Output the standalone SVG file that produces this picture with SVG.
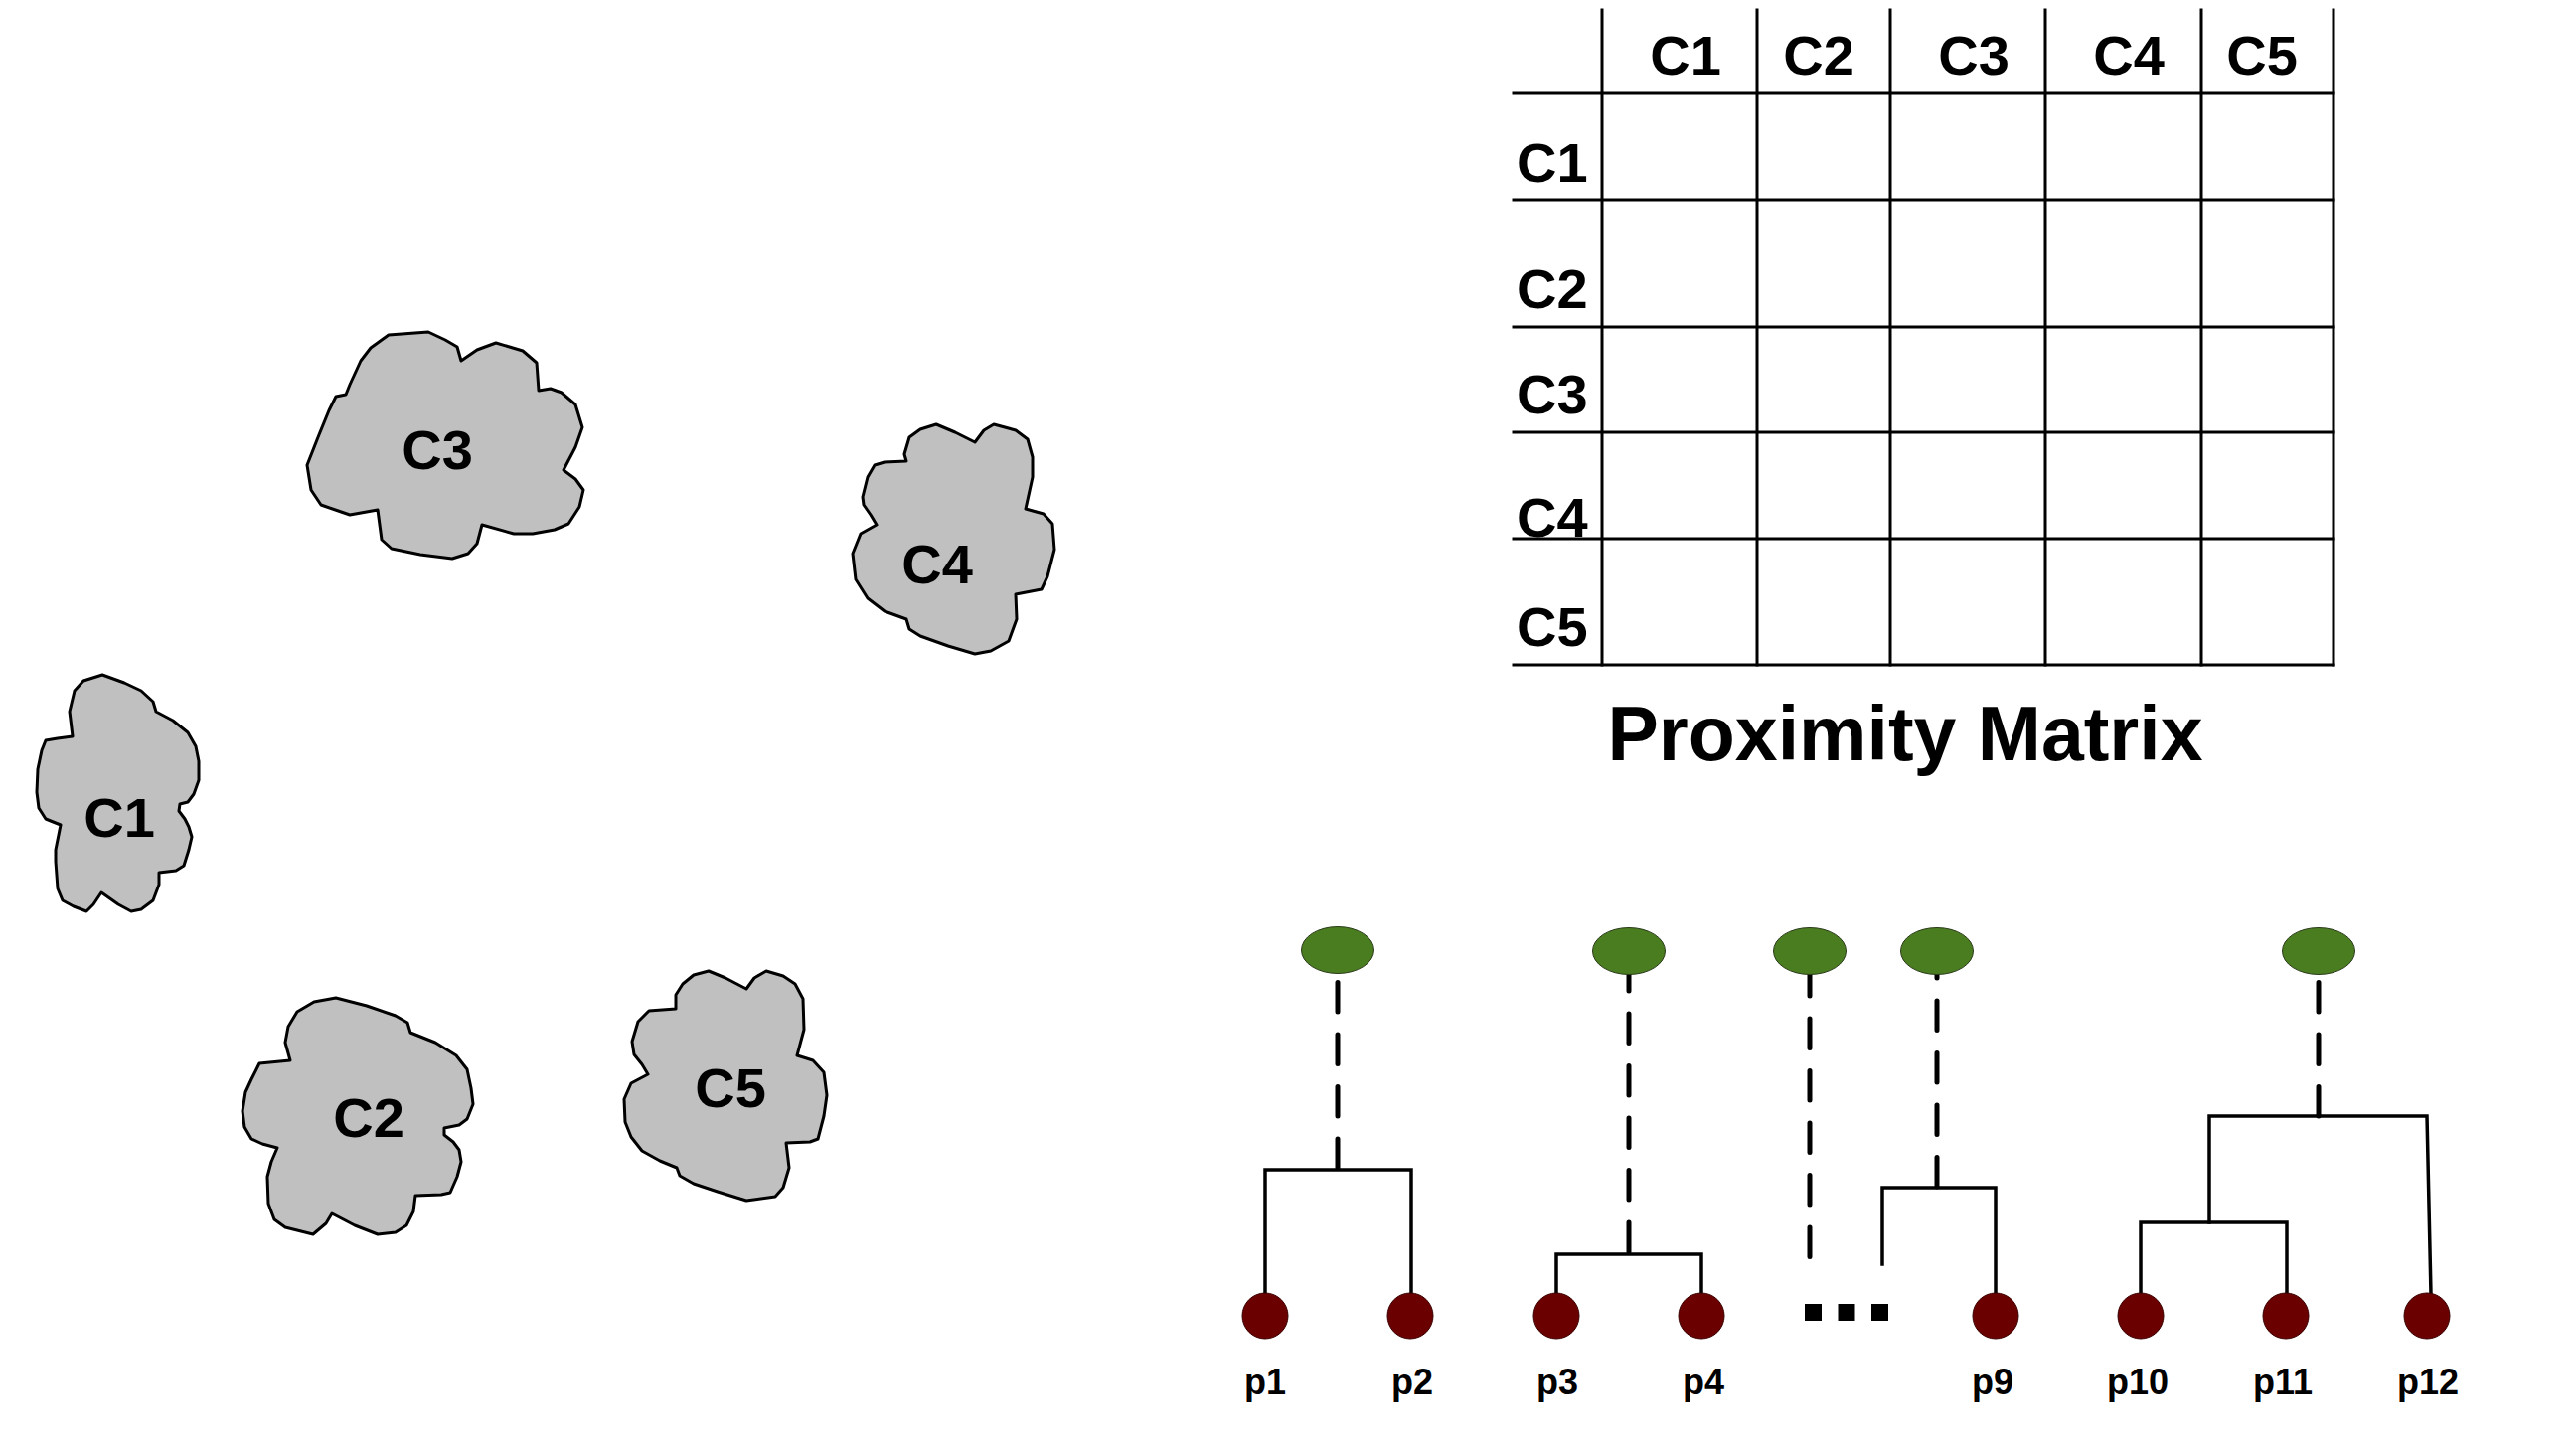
<svg xmlns="http://www.w3.org/2000/svg" width="2592" height="1460" viewBox="0 0 2592 1460">
<style>
  .lbl { font-family: "Liberation Sans", Arial, sans-serif; font-weight: bold; fill: #000; }
  .big { font-size: 56px; }
  .title { font-size: 77px; }
  .pl { font-size: 36px; text-anchor: middle; }
  .mid { text-anchor: middle; }
  .grid { stroke: #000; stroke-width: 3; fill: none; stroke-linecap: square; }
  .blob { fill: #c0c0c0; stroke: #000; stroke-width: 3; stroke-linejoin: round; }
  .root { fill: #4a7d20; stroke: #2a3a1a; stroke-width: 1; }
  .pt { fill: #6b0000; stroke: #3a0000; stroke-width: 1; }
  .tree { stroke: #000; stroke-width: 3.5; fill: none; stroke-linecap: square; }
  .dash { stroke: #000; stroke-width: 5; fill: none; stroke-linecap: round; stroke-dasharray: 29.5 23; }
</style>
<rect width="2592" height="1460" fill="#fff"/>

<!-- Proximity matrix -->
<g id="matrix">
  <g class="grid">
    <line x1="1523" y1="94" x2="2348" y2="94"/>
    <line x1="1523" y1="201" x2="2348" y2="201"/>
    <line x1="1523" y1="329" x2="2348" y2="329"/>
    <line x1="1523" y1="435" x2="2348" y2="435"/>
    <line x1="1523" y1="542" x2="2348" y2="542"/>
    <line x1="1523" y1="669" x2="2348" y2="669"/>
    <line x1="1612" y1="10" x2="1612" y2="669"/>
    <line x1="1768" y1="10" x2="1768" y2="669"/>
    <line x1="1902" y1="10" x2="1902" y2="669"/>
    <line x1="2058" y1="10" x2="2058" y2="669"/>
    <line x1="2215" y1="10" x2="2215" y2="669"/>
    <line x1="2348" y1="10" x2="2348" y2="669"/>
  </g>
  <g class="lbl big mid">
    <text x="1696" y="75">C1</text>
    <text x="1830" y="75">C2</text>
    <text x="1986" y="75">C3</text>
    <text x="2142" y="75">C4</text>
    <text x="2276" y="75">C5</text>
  </g>
  <g class="lbl big">
    <text x="1526" y="183">C1</text>
    <text x="1526" y="310">C2</text>
    <text x="1526" y="416">C3</text>
    <text x="1526" y="540">C4</text>
    <text x="1526" y="650">C5</text>
  </g>
  <text class="lbl title mid" x="1917" y="765">Proximity Matrix</text>
</g>

<!-- Clusters -->
<g id="cluster-C3" transform="translate(-3,0)">
  <path class="blob" d="M434,334 L451,342 L463,349 L467,363 L483,352 L502,345 L529,353 L543,365 L545,393 L557,391 L568,395 L582,407 L589,430 L582,450 L570,473 L582,482 L590,493 L586,510 L575,527 L561,533 L539,537 L520,537 L488,528 L483,547 L474,557 L458,562 L426,558 L397,552 L387,543 L383,513 L355,518 L326,508 L316,493 L312,468 L323,440 L334,413 L341,399 L351,397 L355,387 L366,363 L376,350 L394,337 Z"/>
  <text class="lbl big mid" x="443" y="472">C3</text>
</g>
<g id="cluster-C4" transform="translate(-11,0)">
  <path class="blob" d="M953,427 L972,435 L992,445 L1001,433 L1011,427 L1033,433 L1045,442 L1050,460 L1050,480 L1043,512 L1061,517 L1070,527 L1072,553 L1065,580 L1059,593 L1033,598 L1034,623 L1026,645 L1008,655 L992,658 L965,650 L937,640 L926,633 L923,623 L901,615 L884,602 L872,583 L869,557 L877,537 L893,528 L887,518 L880,508 L879,500 L884,480 L891,468 L901,465 L923,464 L921,457 L926,440 L937,432 Z"/>
  <text class="lbl big mid" x="954" y="587">C4</text>
</g>
<g id="cluster-C1">
  <path class="blob" d="M103,679 L125,687 L142,695 L154,706 L157,716 L174,725 L189,737 L197,751 L200,766 L200,785 L195,799 L189,807 L181,809 L180,816 L186,824 L190,832 L193,842 L190,855 L185,871 L177,876 L160,878 L160,890 L154,906 L142,915 L132,917 L119,910 L102,898 L94,910 L87,917 L74,912 L63,906 L58,894 L56,867 L56,855 L61,830 L46,824 L39,813 L37,797 L38,774 L42,755 L46,745 L58,743 L73,741 L70,716 L75,695 L84,685 Z"/>
  <text class="lbl big mid" x="120" y="842">C1</text>
</g>
<g id="cluster-C2" transform="translate(-3,0)">
  <path class="blob" d="M341,1004 L372,1012 L401,1022 L413,1029 L416,1039 L441,1049 L462,1062 L473,1076 L477,1095 L479,1111 L473,1126 L465,1132 L450,1135 L450,1142 L459,1149 L465,1157 L467,1169 L463,1184 L456,1200 L447,1202 L421,1203 L419,1219 L412,1233 L401,1240 L383,1242 L360,1233 L337,1221 L331,1231 L318,1242 L290,1235 L279,1227 L273,1211 L272,1184 L276,1169 L282,1155 L267,1151 L256,1146 L249,1134 L247,1118 L250,1099 L256,1086 L264,1070 L295,1067 L290,1049 L293,1033 L302,1018 L319,1008 Z"/>
  <text class="lbl big mid" x="374" y="1144">C2</text>
</g>
<g id="cluster-C5" transform="translate(-10,-5)">
  <path class="blob" d="M723,982 L740,989 L761,1000 L769,989 L781,982 L798,987 L810,995 L818,1010 L819,1041 L812,1067 L828,1072 L839,1084 L842,1107 L839,1128 L833,1151 L825,1154 L801,1155 L804,1180 L798,1200 L790,1209 L761,1213 L732,1204 L708,1196 L694,1188 L691,1180 L674,1173 L656,1163 L645,1149 L639,1134 L638,1111 L645,1095 L662,1086 L656,1076 L648,1066 L646,1053 L652,1033 L663,1022 L690,1020 L690,1006 L697,995 L708,986 Z"/>
  <text class="lbl big mid" x="745" y="1119">C5</text>
</g>

<!-- Dendrogram connectors -->
<g id="connectors">
  <path class="dash" d="M1346,988.5 V1178"/>
  <path class="dash" d="M1639,967.5 V1262"/>
  <path class="dash" d="M1821,972.5 V1266"/>
  <path class="dash" d="M1949,954.5 V1195"/>
  <path class="dash" d="M2333,988.5 V1123"/>
  <path class="tree" d="M1273,1302 V1177 H1420 V1302"/>
  <path class="tree" d="M1566,1302 V1262 H1712 V1302"/>
  <path class="tree" d="M1894,1272 V1195 H2008 V1302"/>
  <path class="tree" d="M2154,1302 V1230 H2301 V1302"/>
  <path class="tree" d="M2223,1230 V1123 H2442 L2446,1302"/>
</g>

<!-- Root nodes (green) -->
<g id="root-1"><ellipse class="root" cx="1346" cy="956" rx="36.5" ry="23.5"/></g>
<g id="root-2"><ellipse class="root" cx="1639" cy="957" rx="36.5" ry="23.5"/></g>
<g id="root-3"><ellipse class="root" cx="1821" cy="957" rx="36.5" ry="23.5"/></g>
<g id="root-4"><ellipse class="root" cx="1949" cy="957" rx="36.5" ry="23.5"/></g>
<g id="root-5"><ellipse class="root" cx="2333" cy="957" rx="36.5" ry="23.5"/></g>

<!-- Leaf points -->
<g id="p1"><circle class="pt" cx="1273" cy="1324" r="23"/><text class="lbl pl" x="1273" y="1403">p1</text></g>
<g id="p2"><circle class="pt" cx="1419" cy="1324" r="23"/><text class="lbl pl" x="1421" y="1403">p2</text></g>
<g id="p3"><circle class="pt" cx="1566" cy="1324" r="23"/><text class="lbl pl" x="1567" y="1403">p3</text></g>
<g id="p4"><circle class="pt" cx="1712" cy="1324" r="23"/><text class="lbl pl" x="1714" y="1403">p4</text></g>
<g id="ellipsis">
  <rect x="1816" y="1312" width="17" height="17" fill="#000"/>
  <rect x="1849.5" y="1312" width="17" height="17" fill="#000"/>
  <rect x="1883" y="1312" width="17" height="17" fill="#000"/>
</g>
<g id="p9"><circle class="pt" cx="2008" cy="1324" r="23"/><text class="lbl pl" x="2005" y="1403">p9</text></g>
<g id="p10"><circle class="pt" cx="2154" cy="1324" r="23"/><text class="lbl pl" x="2151" y="1403">p10</text></g>
<g id="p11"><circle class="pt" cx="2300" cy="1324" r="23"/><text class="lbl pl" x="2297" y="1403">p11</text></g>
<g id="p12"><circle class="pt" cx="2442" cy="1324" r="23"/><text class="lbl pl" x="2443" y="1403">p12</text></g>
</svg>
